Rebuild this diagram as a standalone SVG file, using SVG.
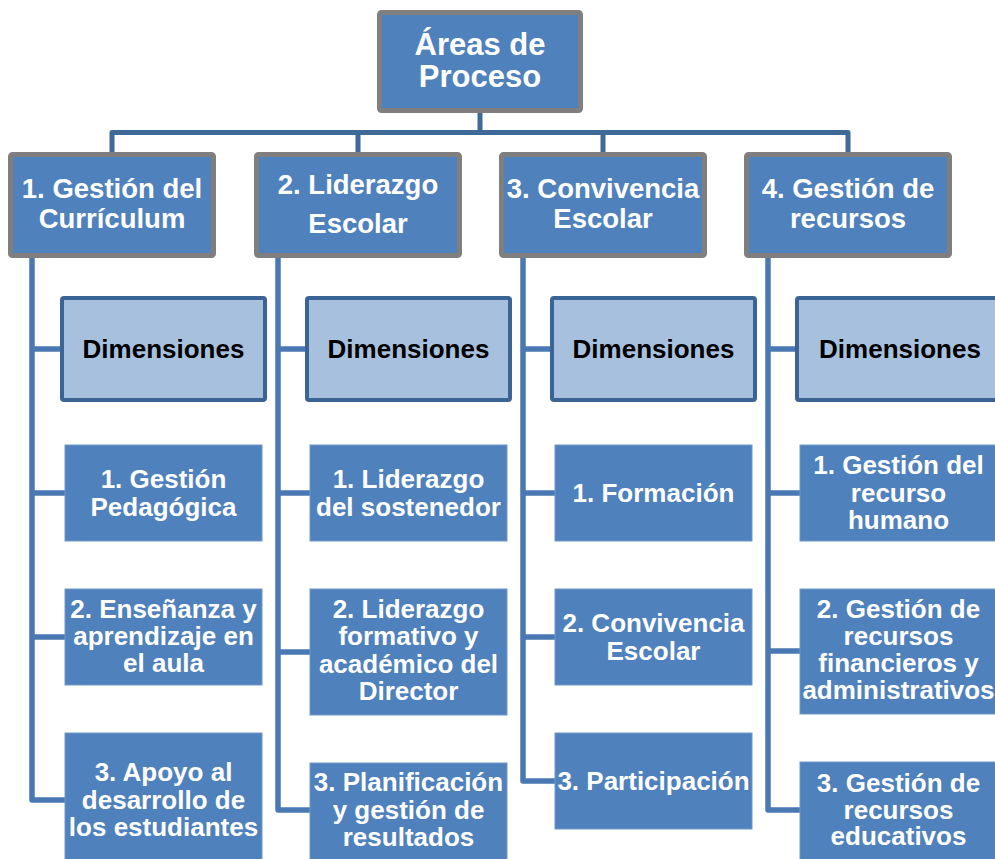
<svg xmlns="http://www.w3.org/2000/svg" width="995" height="859" viewBox="0 0 995 859">
<style>
.top{fill:#4f81bd;stroke:#7f7f7f;stroke-width:5}
.hdr{fill:#4f81bd;stroke:#7f7f7f;stroke-width:5}
.dim{fill:#a7c0de;stroke:#3b6496;stroke-width:4}
.leaf{fill:#4f81bd;stroke:#6f97c9;stroke-width:1}
.tw{font-family:"Liberation Sans",Arial,sans-serif;font-weight:bold;fill:#ffffff;text-anchor:middle}
.tk{font-family:"Liberation Sans",Arial,sans-serif;font-weight:bold;fill:#000000;text-anchor:middle;font-size:26px}
.t1{font-size:31px}
.t2{font-size:27.5px}
.t3{font-size:26px}
.ctop{fill:none;stroke:#3f6997;stroke-width:5;stroke-linejoin:round}
.ccol{fill:none;stroke:#4a78b2;stroke-width:5.5;stroke-linejoin:round}
</style>
<rect width="995" height="859" fill="#ffffff"/>
<g id="connectors">
<path class="ctop" d="M480,112 V132.5 M112,152 V132.5 H848 V152 M358,132.5 V152 M603,132.5 V152"/>
<path class="ccol" d="M32,257 V800 H65 M32,349 H60 M32,493 H65 M32,637 H65"/>
<path class="ccol" d="M278,257 V810 H310 M278,349 H305 M278,493 H310 M278,652 H310"/>
<path class="ccol" d="M523,257 V781 H555 M523,349 H550 M523,493 H555 M523,637 H555"/>
<path class="ccol" d="M768,257 V810 H800 M768,349 H795 M768,493 H800 M768,651 H800"/>
</g>
<g id="root">
<rect class="top" x="379.5" y="12.5" width="201" height="98" rx="2"/>
<text class="tw t1" x="480" y="55">Áreas de</text>
<text class="tw t1" x="480" y="87">Proceso</text>
</g>
<g id="area1">
<rect class="hdr" x="10.5" y="154.5" width="203" height="101" rx="2"/>
<text class="tw t2" x="112" y="198">1. Gestión del</text>
<text class="tw t2" x="112" y="228">Currículum</text>
</g>
<g id="area2">
<rect class="hdr" x="256.5" y="154.5" width="203" height="101" rx="2"/>
<text class="tw t2" x="358" y="194">2. Liderazgo</text>
<text class="tw t2" x="358" y="233">Escolar</text>
</g>
<g id="area3">
<rect class="hdr" x="501.5" y="154.5" width="203" height="101" rx="2"/>
<text class="tw t2" x="603" y="198">3. Convivencia</text>
<text class="tw t2" x="603" y="228">Escolar</text>
</g>
<g id="area4">
<rect class="hdr" x="746.5" y="154.5" width="203" height="101" rx="2"/>
<text class="tw t2" x="848" y="198">4. Gestión de</text>
<text class="tw t2" x="848" y="228">recursos</text>
</g>
<g id="dim1"><rect class="dim" x="62" y="298" width="203" height="102" rx="2"/><text class="tk" x="163.5" y="358">Dimensiones</text></g>
<g id="dim2"><rect class="dim" x="307" y="298" width="203" height="102" rx="2"/><text class="tk" x="408.5" y="358">Dimensiones</text></g>
<g id="dim3"><rect class="dim" x="552" y="298" width="203" height="102" rx="2"/><text class="tk" x="653.5" y="358">Dimensiones</text></g>
<g id="dim4"><rect class="dim" x="797" y="298" width="203" height="102" rx="2"/><text class="tk" x="900" y="358">Dimensiones</text></g>

<g id="c1d1"><rect class="leaf" x="65" y="445" width="197" height="96"/>
<text class="tw t3" x="163.5" y="488">1. Gestión</text><text class="tw t3" x="163.5" y="516">Pedagógica</text></g>
<g id="c1d2"><rect class="leaf" x="65" y="589" width="197" height="96"/>
<text class="tw t3" x="163.5" y="618">2. Enseñanza y</text><text class="tw t3" x="163.5" y="645">aprendizaje en</text><text class="tw t3" x="163.5" y="672">el aula</text></g>
<g id="c1d3"><rect class="leaf" x="65" y="733" width="197" height="133"/>
<text class="tw t3" x="163.5" y="781">3. Apoyo al</text><text class="tw t3" x="163.5" y="809">desarrollo de</text><text class="tw t3" x="163.5" y="836">los estudiantes</text></g>

<g id="c2d1"><rect class="leaf" x="310" y="445" width="197" height="96"/>
<text class="tw t3" x="408.5" y="488">1. Liderazgo</text><text class="tw t3" x="408.5" y="516">del sostenedor</text></g>
<g id="c2d2"><rect class="leaf" x="310" y="589" width="197" height="126"/>
<text class="tw t3" x="408.5" y="618">2. Liderazgo</text><text class="tw t3" x="408.5" y="645">formativo y</text><text class="tw t3" x="408.5" y="673">académico del</text><text class="tw t3" x="408.5" y="700">Director</text></g>
<g id="c2d3"><rect class="leaf" x="310" y="763" width="197" height="100"/>
<text class="tw t3" x="408.5" y="791">3. Planificación</text><text class="tw t3" x="408.5" y="819">y gestión de</text><text class="tw t3" x="408.5" y="846">resultados</text></g>

<g id="c3d1"><rect class="leaf" x="555" y="445" width="197" height="96"/>
<text class="tw t3" x="653.5" y="502">1. Formación</text></g>
<g id="c3d2"><rect class="leaf" x="555" y="589" width="197" height="96"/>
<text class="tw t3" x="653.5" y="632">2. Convivencia</text><text class="tw t3" x="653.5" y="660">Escolar</text></g>
<g id="c3d3"><rect class="leaf" x="555" y="733" width="197" height="96"/>
<text class="tw t3" x="653.5" y="790">3. Participación</text></g>

<g id="c4d1"><rect class="leaf" x="800" y="445" width="197" height="96"/>
<text class="tw t3" x="898.5" y="474">1. Gestión del</text><text class="tw t3" x="898.5" y="502">recurso</text><text class="tw t3" x="898.5" y="529">humano</text></g>
<g id="c4d2"><rect class="leaf" x="800" y="589" width="197" height="125"/>
<text class="tw t3" x="898.5" y="618">2. Gestión de</text><text class="tw t3" x="898.5" y="645">recursos</text><text class="tw t3" x="898.5" y="672">financieros y</text><text class="tw t3" x="898.5" y="699">administrativos</text></g>
<g id="c4d3"><rect class="leaf" x="800" y="762" width="197" height="100"/>
<text class="tw t3" x="898.5" y="792">3. Gestión de</text><text class="tw t3" x="898.5" y="819">recursos</text><text class="tw t3" x="898.5" y="845">educativos</text></g>
</svg>
